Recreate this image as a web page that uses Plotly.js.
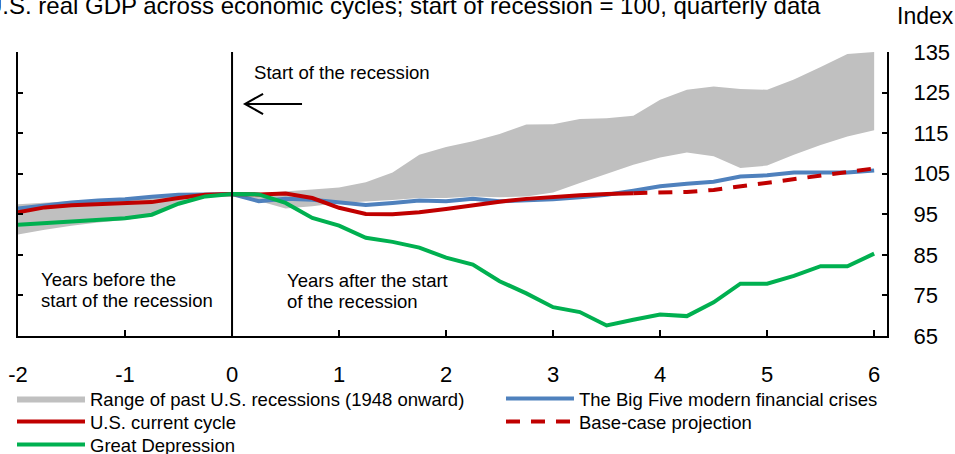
<!DOCTYPE html>
<html>
<head>
<meta charset="utf-8">
<script src="https://cdn.plot.ly/plotly-3.0.1.min.js"></script>
<style>html,body{margin:0;padding:0;background:#fff;}#chart{width:955px;height:454px;}</style>
</head>
<body>
<div id="chart"></div>
<script>
// Quarters relative to the start of the recession (years)
const quarters = [-2,-1.75,-1.5,-1.25,-1,-0.75,-0.5,-0.25,0,0.25,0.5,0.75,1,1.25,1.5,1.75,2,2.25,2.5,2.75,3,3.25,3.5,3.75,4,4.25,4.5,4.75,5,5.25,5.5,5.75,6];

// Range of past U.S. recessions (1948 onward): lower and upper bound
const rangeLow  = [90.0,91.2,92.2,93.0,93.6,94.6,97.4,99.2,100,98.3,96.4,97.0,97.8,98.1,98.5,99.0,99.0,99.4,99.2,99.4,100.4,102.7,105.0,107.2,109.0,110.2,109.3,106.4,107.0,109.7,112.1,114.2,115.7];
const rangeHigh = [97.5,97.9,98.3,98.7,99.0,99.4,99.8,100.0,100,100.2,100.6,101.1,101.6,102.9,105.3,109.7,111.6,113.0,114.8,117.1,117.2,118.5,118.7,119.3,123.2,125.7,126.5,125.9,125.7,128.2,131.3,134.5,135.0];

// The Big Five modern financial crises
const bigFive = [96.4,97.2,97.9,98.4,98.7,99.3,99.8,99.9,100,98.2,98.8,98.6,97.9,97.3,97.8,98.4,98.2,98.8,98.2,98.4,98.7,99.2,99.8,100.8,101.9,102.5,103.0,104.3,104.6,105.3,105.2,105.3,105.8];

// U.S. current cycle (-2 .. 3.75)
const currentQuarters = [-2,-1.75,-1.5,-1.25,-1,-0.75,-0.5,-0.25,0,0.25,0.5,0.75,1,1.25,1.5,1.75,2,2.25,2.5,2.75,3,3.25,3.5,3.75];
const currentCycle = [95.5,96.7,97.2,97.4,97.8,98.0,99.0,99.8,100,99.9,100.1,99.0,96.6,95.1,95.0,95.5,96.3,97.3,98.1,98.8,99.3,99.7,100.0,100.2];

// Base-case projection (3.75 .. 6)
const projQuarters = [3.75,4,4.25,4.5,4.75,5,5.25,5.5,5.75,6];
const projection = [100.2,100.3,100.5,101.0,101.9,102.7,103.7,104.7,105.6,106.3];

// Great Depression
const greatDepression = [92.4,92.8,93.2,93.6,94.0,94.9,97.6,99.4,100,99.9,97.8,94.1,92.2,89.2,88.2,86.8,84.3,82.6,78.5,75.5,72.1,70.9,67.6,69.0,70.3,69.9,73.3,77.9,77.9,79.8,82.2,82.2,85.3];

const xTicks = [-2,-1,0,1,2,3,4,5,6];
const yTicks = [65,75,85,95,105,115,125,135];

const FONT = 'Arial, "Liberation Sans", sans-serif';
const GREY = '#c0c0c0', BLUE = '#4f81bd', RED = '#c00000', GREEN = '#00b050';

const traces = [
  {x: quarters, y: rangeLow, type: 'scatter', mode: 'lines', line: {width: 0, color: GREY},
   showlegend: false, hoverinfo: 'skip'},
  {x: quarters, y: rangeHigh, type: 'scatter', mode: 'lines', line: {width: 0, color: GREY},
   fill: 'tonexty', fillcolor: GREY, name: 'Range of past U.S. recessions (1948 onward)', legend: 'legend'},
  {x: quarters, y: bigFive, type: 'scatter', mode: 'lines', line: {width: 4, color: BLUE},
   name: 'The Big Five modern financial crises', legend: 'legend2'},
  {x: currentQuarters, y: currentCycle, type: 'scatter', mode: 'lines', line: {width: 4, color: RED},
   name: 'U.S. current cycle', legend: 'legend3'},
  {x: projQuarters, y: projection, type: 'scatter', mode: 'lines', line: {width: 4, color: RED, dash: '14px,11px'},
   name: 'Base-case projection', legend: 'legend4'},
  {x: quarters, y: greatDepression, type: 'scatter', mode: 'lines', line: {width: 4, color: GREEN},
   name: 'Great Depression', legend: 'legend5'}
];

function leg(x, y) {
  return {orientation: 'v', x: x, xanchor: 'left', y: y, yanchor: 'top',
          font: {family: FONT, size: 18.5, color: '#000'}, itemwidth: 68,
          bgcolor: 'rgba(0,0,0,0)', borderwidth: 0, itemclick: false};
}

const layout = {
  width: 955, height: 454,
  margin: {l: 18, r: 68, t: 52, b: 118, autoexpand: false},
  paper_bgcolor: '#fff', plot_bgcolor: '#fff',
  font: {family: FONT, color: '#000', size: 17},
  showlegend: true,
  legend:  leg(-0.0069, -0.155),
  legend2: leg(0.5558, -0.155),
  legend3: leg(-0.0069, -0.236),
  legend4: leg(0.5558, -0.236),
  legend5: leg(-0.0069, -0.317),
  xaxis: {range: [-2, 6.12], tickvals: xTicks, ticktext: xTicks.map(String), ticks: 'inside', ticklen: 6,
          tickwidth: 2, tickcolor: '#000', showline: true, linewidth: 2, linecolor: '#000',
          showgrid: false, zeroline: false, tickfont: {size: 22, family: FONT}, ticklabelstandoff: 18},
  yaxis: {range: [65, 135], side: 'right', tickvals: yTicks, ticks: 'inside', ticklen: 5,
          tickwidth: 2, tickcolor: '#000', showline: true, linewidth: 2, linecolor: '#000', mirror: 'ticks',
          showgrid: false, zeroline: false, tickfont: {size: 22, family: FONT}, ticklabelstandoff: 20},
  shapes: [
    {type: 'line', xref: 'x', yref: 'paper', x0: 0, x1: 0, y0: 0, y1: 1, line: {color: '#000', width: 2}},
    {type: 'path', xref: 'x', yref: 'y', path: 'M 0.654,122.2 L 0.121,122.2 M 0.29,124.7 L 0.121,122.2 L 0.29,119.7',
     line: {color: '#000', width: 2}}
  ],
  annotations: [
    {text: 'U.S. real GDP across economic cycles; start of recession = 100, quarterly data', xref: 'paper', yref: 'paper',
     x: -0.0403, y: 1.1637, xanchor: 'left', yanchor: 'middle', showarrow: false, font: {size: 24, family: FONT}},
    {text: 'Index', xref: 'paper', yref: 'paper', x: 1.0092, y: 1.1268, xanchor: 'left', yanchor: 'middle',
     showarrow: false, font: {size: 23, family: FONT}},
    {text: 'Start of the recession', xref: 'x', yref: 'y', x: 0.19, y: 129.9, xanchor: 'left', yanchor: 'middle',
     showarrow: false, font: {size: 18.6, family: FONT}},
    {text: 'Years before the', xref: 'x', yref: 'y', x: -1.8, y: 79.0, xanchor: 'left',
     yanchor: 'middle', showarrow: false, font: {size: 18.5, family: FONT}},
    {text: 'start of the recession', xref: 'x', yref: 'y', x: -1.8, y: 73.7, xanchor: 'left',
     yanchor: 'middle', showarrow: false, font: {size: 18.5, family: FONT}},
    {text: 'Years after the start', xref: 'x', yref: 'y', x: 0.495, y: 78.8, xanchor: 'left',
     yanchor: 'middle', showarrow: false, font: {size: 18.5, family: FONT}},
    {text: 'of the recession', xref: 'x', yref: 'y', x: 0.495, y: 73.5, xanchor: 'left',
     yanchor: 'middle', showarrow: false, font: {size: 18.5, family: FONT}}
  ]
};

Plotly.newPlot('chart', traces, layout, {displayModeBar: false, staticPlot: true});
</script>
</body>
</html>
